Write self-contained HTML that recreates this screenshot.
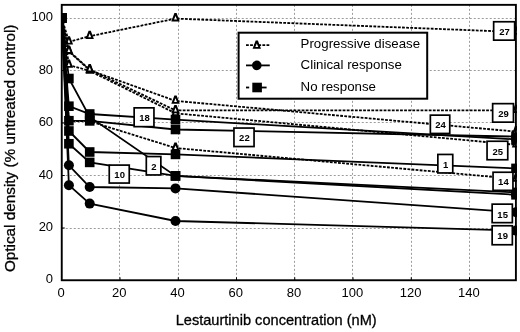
<!DOCTYPE html>
<html><head><meta charset="utf-8"><title>Lestaurtinib dose response</title>
<style>
html,body{margin:0;padding:0;background:#fff;}
body{width:520px;height:332px;overflow:hidden;}
svg{display:block;font-family:"Liberation Sans",Arial,sans-serif;}
</style></head><body>
<svg width="520" height="332" viewBox="0 0 520 332">
<rect x="0" y="0" width="520" height="332" fill="#fff"/>
<defs><clipPath id="pc"><rect x="61" y="4" width="455.9" height="277"/></clipPath></defs>

<g stroke="#9c9c9c" stroke-width="1" stroke-dasharray="2,2" fill="none">
<line x1="119.50" y1="4.85" x2="119.50" y2="280.25"/>
<line x1="178.50" y1="4.85" x2="178.50" y2="280.25"/>
<line x1="236.50" y1="4.85" x2="236.50" y2="280.25"/>
<line x1="294.50" y1="4.85" x2="294.50" y2="280.25"/>
<line x1="352.50" y1="4.85" x2="352.50" y2="280.25"/>
<line x1="411.50" y1="4.85" x2="411.50" y2="280.25"/>
<line x1="469.50" y1="4.85" x2="469.50" y2="280.25"/>
<line x1="61.75" y1="228.50" x2="515.9" y2="228.50"/>
<line x1="61.75" y1="175.50" x2="515.9" y2="175.50"/>
<line x1="61.75" y1="122.50" x2="515.9" y2="122.50"/>
<line x1="61.75" y1="70.50" x2="515.9" y2="70.50"/>
<line x1="61.75" y1="18.50" x2="515.9" y2="18.50"/>
</g>
<g stroke="#000" stroke-width="1">
<line x1="120.00" y1="277.25" x2="120.00" y2="280.25"/>
<line x1="178.25" y1="277.25" x2="178.25" y2="280.25"/>
<line x1="236.50" y1="277.25" x2="236.50" y2="280.25"/>
<line x1="294.75" y1="277.25" x2="294.75" y2="280.25"/>
<line x1="353.00" y1="277.25" x2="353.00" y2="280.25"/>
<line x1="411.25" y1="277.25" x2="411.25" y2="280.25"/>
<line x1="469.50" y1="277.25" x2="469.50" y2="280.25"/>
<line x1="61.75" y1="228.00" x2="64.75" y2="228.00"/>
<line x1="61.75" y1="175.50" x2="64.75" y2="175.50"/>
<line x1="61.75" y1="123.00" x2="64.75" y2="123.00"/>
<line x1="61.75" y1="70.50" x2="64.75" y2="70.50"/>
<line x1="61.75" y1="18.00" x2="64.75" y2="18.00"/>
</g>
<g clip-path="url(#pc)">
<polyline points="61.80,17.90 68.90,131.00 89.70,152.00 175.50,154.40 516.00,168.40" fill="none" stroke="#000" stroke-width="1.8"/>
<rect x="57.00" y="13.10" width="9.6" height="9.6" fill="#000"/>
<rect x="64.10" y="126.20" width="9.6" height="9.6" fill="#000"/>
<rect x="84.90" y="147.20" width="9.6" height="9.6" fill="#000"/>
<rect x="170.70" y="149.60" width="9.6" height="9.6" fill="#000"/>
<rect x="511.20" y="163.60" width="9.6" height="9.6" fill="#000"/>
<polyline points="61.80,17.90 68.90,78.50 89.70,117.00 175.50,175.90 516.00,192.40" fill="none" stroke="#000" stroke-width="1.8"/>
<rect x="57.00" y="13.10" width="9.6" height="9.6" fill="#000"/>
<rect x="64.10" y="73.70" width="9.6" height="9.6" fill="#000"/>
<rect x="84.90" y="112.20" width="9.6" height="9.6" fill="#000"/>
<rect x="170.70" y="171.10" width="9.6" height="9.6" fill="#000"/>
<rect x="511.20" y="187.60" width="9.6" height="9.6" fill="#000"/>
<polyline points="61.80,17.90 68.90,143.75 89.70,162.40 175.50,175.90 516.00,194.80" fill="none" stroke="#000" stroke-width="1.8"/>
<rect x="57.00" y="13.10" width="9.6" height="9.6" fill="#000"/>
<rect x="64.10" y="138.95" width="9.6" height="9.6" fill="#000"/>
<rect x="84.90" y="157.60" width="9.6" height="9.6" fill="#000"/>
<rect x="170.70" y="171.10" width="9.6" height="9.6" fill="#000"/>
<rect x="511.20" y="190.00" width="9.6" height="9.6" fill="#000"/>
<polyline points="61.80,17.90 68.90,121.00 89.70,121.30 175.50,148.00 516.00,179.00" fill="none" stroke="#000" stroke-width="1.8" stroke-dasharray="2.8,1.3" stroke-dashoffset="0"/>
<polygon points="67.80,115.50 70.00,115.50 73.10,123.80 64.70,123.80" fill="#000"/><polygon points="68.90,118.40 70.35,122.00 67.45,122.00" fill="#fff"/>
<polygon points="88.60,115.80 90.80,115.80 93.90,124.10 85.50,124.10" fill="#000"/><polygon points="89.70,118.70 91.15,122.30 88.25,122.30" fill="#fff"/>
<polygon points="174.40,142.50 176.60,142.50 179.70,150.80 171.30,150.80" fill="#000"/><polygon points="175.50,145.40 176.95,149.00 174.05,149.00" fill="#fff"/>
<polygon points="514.90,173.50 517.10,173.50 520.20,181.80 511.80,181.80" fill="#000"/><polygon points="516.00,176.40 517.45,180.00 514.55,180.00" fill="#fff"/>
<polyline points="61.80,17.90 68.90,165.30 89.70,187.00 175.50,188.40 516.00,212.20" fill="none" stroke="#000" stroke-width="1.8"/>
<circle cx="68.90" cy="165.30" r="5" fill="#000"/>
<circle cx="89.70" cy="187.00" r="5" fill="#000"/>
<circle cx="175.50" cy="188.40" r="5" fill="#000"/>
<circle cx="516.00" cy="212.20" r="5" fill="#000"/>
<polyline points="61.80,17.90 68.90,106.20 89.70,114.00 175.50,119.60 516.00,139.40" fill="none" stroke="#000" stroke-width="1.8"/>
<rect x="57.00" y="13.10" width="9.6" height="9.6" fill="#000"/>
<rect x="64.10" y="101.40" width="9.6" height="9.6" fill="#000"/>
<rect x="84.90" y="109.20" width="9.6" height="9.6" fill="#000"/>
<rect x="170.70" y="114.80" width="9.6" height="9.6" fill="#000"/>
<rect x="511.20" y="134.60" width="9.6" height="9.6" fill="#000"/>
<polyline points="61.80,17.90 68.90,185.20 89.70,203.60 175.50,221.00 516.00,230.60" fill="none" stroke="#000" stroke-width="1.8"/>
<circle cx="68.90" cy="185.20" r="5" fill="#000"/>
<circle cx="89.70" cy="203.60" r="5" fill="#000"/>
<circle cx="175.50" cy="221.00" r="5" fill="#000"/>
<circle cx="516.00" cy="230.60" r="5" fill="#000"/>
<polyline points="61.80,17.90 68.90,120.70 89.70,120.90 175.50,129.50 516.00,136.60" fill="none" stroke="#000" stroke-width="1.8"/>
<rect x="57.00" y="13.10" width="9.6" height="9.6" fill="#000"/>
<rect x="64.10" y="115.90" width="9.6" height="9.6" fill="#000"/>
<rect x="84.90" y="116.10" width="9.6" height="9.6" fill="#000"/>
<rect x="170.70" y="124.70" width="9.6" height="9.6" fill="#000"/>
<rect x="511.20" y="131.80" width="9.6" height="9.6" fill="#000"/>
<polyline points="61.80,17.90 68.90,65.00 89.70,70.90 175.50,113.30 516.00,144.80" fill="none" stroke="#000" stroke-width="1.8" stroke-dasharray="2.8,1.3" stroke-dashoffset="2.0"/>
<polygon points="67.80,59.50 70.00,59.50 73.10,67.80 64.70,67.80" fill="#000"/><polygon points="68.90,62.40 70.35,66.00 67.45,66.00" fill="#fff"/>
<polygon points="88.60,65.40 90.80,65.40 93.90,73.70 85.50,73.70" fill="#000"/><polygon points="89.70,68.30 91.15,71.90 88.25,71.90" fill="#fff"/>
<polygon points="174.40,107.80 176.60,107.80 179.70,116.10 171.30,116.10" fill="#000"/><polygon points="175.50,110.70 176.95,114.30 174.05,114.30" fill="#fff"/>
<polygon points="514.90,139.30 517.10,139.30 520.20,147.60 511.80,147.60" fill="#000"/><polygon points="516.00,142.20 517.45,145.80 514.55,145.80" fill="#fff"/>
<polyline points="61.80,17.90 68.90,51.50 89.70,70.20 175.50,100.90 516.00,131.60" fill="none" stroke="#000" stroke-width="1.8" stroke-dasharray="2.8,1.3" stroke-dashoffset="1.0"/>
<polygon points="67.80,46.00 70.00,46.00 73.10,54.30 64.70,54.30" fill="#000"/><polygon points="68.90,48.90 70.35,52.50 67.45,52.50" fill="#fff"/>
<polygon points="88.60,64.70 90.80,64.70 93.90,73.00 85.50,73.00" fill="#000"/><polygon points="89.70,67.60 91.15,71.20 88.25,71.20" fill="#fff"/>
<polygon points="174.40,95.40 176.60,95.40 179.70,103.70 171.30,103.70" fill="#000"/><polygon points="175.50,98.30 176.95,101.90 174.05,101.90" fill="#fff"/>
<polygon points="514.90,126.10 517.10,126.10 520.20,134.40 511.80,134.40" fill="#000"/><polygon points="516.00,129.00 517.45,132.60 514.55,132.60" fill="#fff"/>
<polyline points="61.80,17.90 68.90,41.80 89.70,36.20 175.50,18.60 516.00,32.00" fill="none" stroke="#000" stroke-width="1.8" stroke-dasharray="2.8,1.3" stroke-dashoffset="0"/>
<polygon points="67.80,36.30 70.00,36.30 73.10,44.60 64.70,44.60" fill="#000"/><polygon points="68.90,39.20 70.35,42.80 67.45,42.80" fill="#fff"/>
<polygon points="88.60,30.70 90.80,30.70 93.90,39.00 85.50,39.00" fill="#000"/><polygon points="89.70,33.60 91.15,37.20 88.25,37.20" fill="#fff"/>
<polygon points="174.40,13.10 176.60,13.10 179.70,21.40 171.30,21.40" fill="#000"/><polygon points="175.50,16.00 176.95,19.60 174.05,19.60" fill="#fff"/>
<polygon points="514.90,26.50 517.10,26.50 520.20,34.80 511.80,34.80" fill="#000"/><polygon points="516.00,29.40 517.45,33.00 514.55,33.00" fill="#fff"/>
<polyline points="61.80,17.90 68.90,51.00 89.70,69.60 175.50,110.40 516.00,110.30" fill="none" stroke="#000" stroke-width="1.8" stroke-dasharray="2.8,1.3" stroke-dashoffset="0"/>
<polygon points="67.80,45.50 70.00,45.50 73.10,53.80 64.70,53.80" fill="#000"/><polygon points="68.90,48.40 70.35,52.00 67.45,52.00" fill="#fff"/>
<polygon points="88.60,64.10 90.80,64.10 93.90,72.40 85.50,72.40" fill="#000"/><polygon points="89.70,67.00 91.15,70.60 88.25,70.60" fill="#fff"/>
<polygon points="174.40,104.90 176.60,104.90 179.70,113.20 171.30,113.20" fill="#000"/><polygon points="175.50,107.80 176.95,111.40 174.05,111.40" fill="#fff"/>
<polygon points="514.90,104.80 517.10,104.80 520.20,113.10 511.80,113.10" fill="#000"/><polygon points="516.00,107.70 517.45,111.30 514.55,111.30" fill="#fff"/>
</g>
<rect x="61.75" y="4.85" width="454.15" height="275.4" fill="none" stroke="#000" stroke-width="1.9"/>
<rect x="238.6" y="32.7" width="188.6" height="66" fill="#fff" stroke="#000" stroke-width="2"/>
<line x1="246" y1="45.2" x2="269.8" y2="45.2" stroke="#000" stroke-width="1.8" stroke-dasharray="2.8,1.3"/>
<polygon points="255.70,40.50 257.90,40.50 261.00,48.80 252.60,48.80" fill="#000"/><polygon points="256.80,43.40 258.25,47.00 255.35,47.00" fill="#fff"/>
<line x1="246" y1="65.4" x2="269.8" y2="65.4" stroke="#000" stroke-width="1.8"/>
<circle cx="256.80" cy="65.40" r="4.8" fill="#000"/>
<line x1="246" y1="87.5" x2="249.2" y2="87.5" stroke="#000" stroke-width="1.8"/>
<line x1="260" y1="87.5" x2="266.6" y2="87.5" stroke="#000" stroke-width="1.8"/>
<rect x="252.30" y="82.70" width="9.6" height="9.6" fill="#000"/>
<g font-size="13.3" fill="#000">
<text x="300.6" y="48.4" textLength="119.5" lengthAdjust="spacingAndGlyphs">Progressive disease</text>
<text x="300.6" y="69.2">Clinical response</text>
<text x="300.6" y="91">No response</text>
</g>
<g font-size="9.5" font-weight="bold" text-anchor="middle" fill="#000">
<rect x="493.65" y="21.75" width="21.00" height="18.40" fill="#fff" stroke="#000" stroke-width="1.7"/>
<text x="504.55" y="35.05">27</text>
<rect x="492.65" y="103.65" width="20.80" height="18.50" fill="#fff" stroke="#000" stroke-width="1.7"/>
<text x="503.45" y="117.00">29</text>
<rect x="430.35" y="115.15" width="19.40" height="18.30" fill="#fff" stroke="#000" stroke-width="1.7"/>
<text x="440.45" y="128.40">24</text>
<rect x="487.05" y="141.25" width="20.70" height="18.50" fill="#fff" stroke="#000" stroke-width="1.7"/>
<text x="497.80" y="154.60">25</text>
<rect x="437.85" y="154.45" width="14.90" height="18.50" fill="#fff" stroke="#000" stroke-width="1.7"/>
<text x="445.70" y="167.80">1</text>
<rect x="493.05" y="172.25" width="19.90" height="18.10" fill="#fff" stroke="#000" stroke-width="1.7"/>
<text x="503.40" y="185.40">14</text>
<rect x="492.15" y="204.15" width="20.20" height="18.50" fill="#fff" stroke="#000" stroke-width="1.7"/>
<text x="502.65" y="217.50">15</text>
<rect x="492.15" y="225.75" width="20.20" height="19.00" fill="#fff" stroke="#000" stroke-width="1.7"/>
<text x="502.65" y="239.35">19</text>
<rect x="134.15" y="107.85" width="19.80" height="18.80" fill="#fff" stroke="#000" stroke-width="1.7"/>
<text x="144.45" y="121.35">18</text>
<rect x="233.95" y="128.05" width="20.10" height="18.50" fill="#fff" stroke="#000" stroke-width="1.7"/>
<text x="244.40" y="141.40">22</text>
<rect x="146.30" y="156.55" width="14.55" height="18.40" fill="#fff" stroke="#000" stroke-width="1.7"/>
<text x="153.97" y="169.85">2</text>
<rect x="109.25" y="165.10" width="20.00" height="17.95" fill="#fff" stroke="#000" stroke-width="1.7"/>
<text x="119.65" y="178.17">10</text>
</g>
<g font-size="13" fill="#000">
<text x="53.1" y="282.60" text-anchor="end">0</text>
<text x="53.1" y="231.10" text-anchor="end">20</text>
<text x="53.1" y="178.60" text-anchor="end">40</text>
<text x="53.1" y="126.10" text-anchor="end">60</text>
<text x="53.1" y="73.60" text-anchor="end">80</text>
<text x="53.1" y="21.10" text-anchor="end">100</text>
<text x="61.05" y="296.6" text-anchor="middle">0</text>
<text x="119.30" y="296.6" text-anchor="middle">20</text>
<text x="177.55" y="296.6" text-anchor="middle">40</text>
<text x="235.80" y="296.6" text-anchor="middle">60</text>
<text x="294.05" y="296.6" text-anchor="middle">80</text>
<text x="352.30" y="296.6" text-anchor="middle">100</text>
<text x="410.55" y="296.6" text-anchor="middle">120</text>
<text x="468.80" y="296.6" text-anchor="middle">140</text>
</g>
<text x="175.7" y="325.2" font-size="14.6" fill="#000" stroke="#000" stroke-width="0.3" textLength="201" lengthAdjust="spacingAndGlyphs">Lestaurtinib concentration (nM)</text>
<text transform="translate(15.3,272.1) rotate(-90)" font-size="14.6" fill="#000" stroke="#000" stroke-width="0.3" textLength="247.5" lengthAdjust="spacingAndGlyphs">Optical density (% untreated control)</text>
</svg></body></html>
